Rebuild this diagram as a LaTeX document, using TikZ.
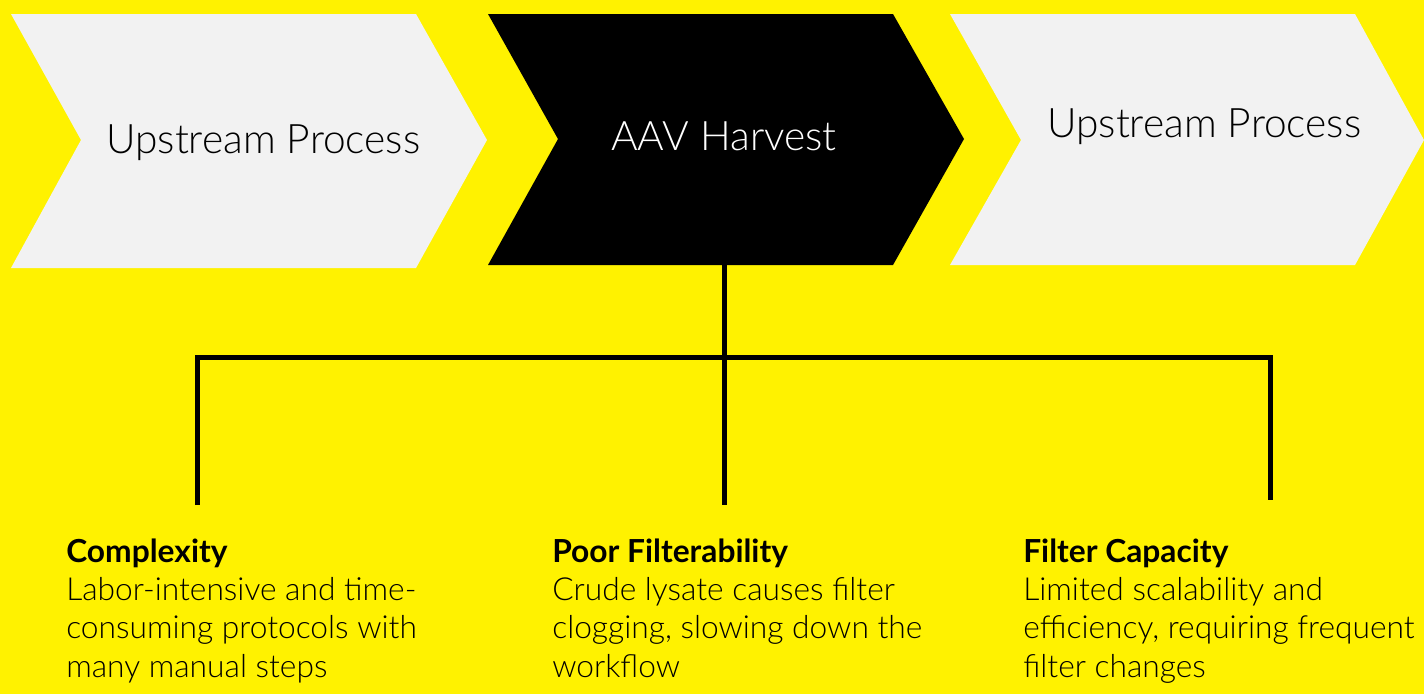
\documentclass[tikz,border=0pt]{standalone}
\usepackage{fontspec}
\setmainfont{Lato}[UprightFont=* Light, BoldFont=* Bold]
\definecolor{bgyellow}{HTML}{FFF200}
\definecolor{chevgrey}{HTML}{F2F2F2}

\begin{document}
\begin{tikzpicture}[x=0.75pt,y=-0.75pt,
  link/.style={line width=3.75pt,line cap=butt},
  chevlabel/.style={anchor=base west,inner sep=0pt,font=\fontsize{30.5}{34}\selectfont},
  issue/.style={anchor=base west,inner sep=0pt,align=left,font=\fontsize{23.8}{28.75}\selectfont}]
  \fill[bgyellow] (0,0) rectangle (1424,694);
  % the three process chevrons
  \fill[chevgrey] (11,14)--(416,14)--(487,140)--(416,268)--(11,268)--(81,140)--cycle;
  \fill[black] (488,14)--(893,14)--(964,139)--(893,265)--(488,265)--(558,139)--cycle;
  \fill[chevgrey] (950,14)--(1355,14)--(1424,140)--(1355,265)--(950,265)--(1021,140)--cycle;
  \node[chevlabel] (ups) at (106,153) {Upstream Process};
  \node[chevlabel,text=white] (harvest) at (611,150) {AAV Harvest};
  \node[chevlabel] (downs) at (1047,137) {Upstream Process};
  % branching connector
  \coordinate (hub) at (724,265);
  \coordinate (midend) at (724,505);
  \coordinate (lefttop) at (197,357);
  \coordinate (leftend) at (197,505);
  \coordinate (righttop) at (1270,357);
  \coordinate (rightend) at (1270,500);
  \draw[link] (hub)--(midend);
  \draw[link] (leftend)--(lefttop)--(righttop)--(rightend);
  % the three issues (anchored on the last baseline)
  \node[issue] (cplx) at (66,677) {\textbf{Complexity}\\Labor-intensive and time-\\consuming protocols with\\many manual steps};
  \node[issue] (filt) at (552,677) {\textbf{Poor Filterability}\\Crude lysate causes filter\\clogging, slowing down the\\workflow};
  \node[issue] (cap) at (1023,677) {\textbf{Filter Capacity}\\Limited scalability and\\efficiency, requiring frequent\\filter changes};
\end{tikzpicture}
\end{document}
